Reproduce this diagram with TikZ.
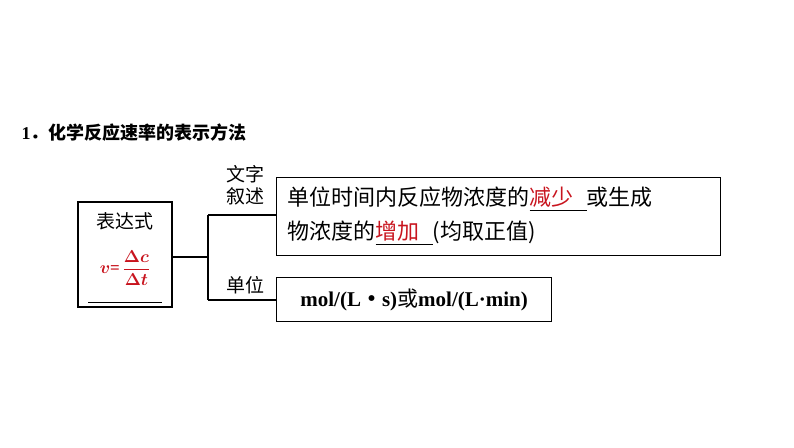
\documentclass[tikz,border=0pt]{standalone}
\usepackage{amsmath}
\usepackage{bm}
\usepackage{fontspec}
\setmainfont{Liberation Serif}
\newfontfamily\cjk{Noto Sans CJK SC}
\usetikzlibrary{positioning}
\definecolor{formred}{RGB}{200,20,30}
\tikzset{
  frame/.style={draw, line width=1.2pt, inner sep=0pt},
  lbl/.style={font=\cjk\fontsize{19}{22}\selectfont, align=left, inner sep=1pt},
  wire/.style={line width=1.2pt},
}
\newcommand{\redul}[1]{\underline{\textcolor{formred}{#1}\hspace{0.6em}}}
\begin{document}
\begin{tikzpicture}[x=1pt, y=-1pt]
	\useasboundingbox (0,0) rectangle (794,447);

	\node[anchor=west, font=\fontsize{18}{20}\selectfont\bfseries] (title) at (18,133) {1{\cjk ．化学反应速率的表示方法}};

	% left box
	\draw[frame] (78,202) rectangle (172,307);
	\coordinate (boxr) at (172,257);
	\node[lbl] (expr) at (125,221) {表达式};
	\node[font=\fontsize{17}{20}\selectfont\bfseries, text=formred] (formula) at (125,268) {$\bm{v}$=\,$\dfrac{\bm{\Delta c}}{\bm{\Delta t}}$};
	\draw[line width=1pt] (88,302) -- (162,302);

	% right boxes
	\node[frame, minimum width=444pt, minimum height=78pt, anchor=north west,
	      text width=430pt, align=left, font=\cjk\fontsize{22}{34}\selectfont] (desc) at (276,177)
	      {\hspace{4pt}单位时间内反应物浓度的\redul{减少}或生成\\\hspace{4pt}物浓度的\redul{增加}(均取正值)};
	\node[frame, minimum width=275pt, minimum height=44pt, anchor=north west,
	      font=\fontsize{21}{24}\selectfont\bfseries] (unit) at (276,277)
	      {mol/(L{\cjk ·}s){\cjk\mdseries 或}mol/(L·min)};

	\node[lbl] (wenzi) at (245,185) {文字\\叙述};
	\node[lbl] (danwei) at (245,285) {单位};

	% bracket
	\coordinate (split) at (208,257);
	\coordinate (top) at (208,215);
	\coordinate (bot) at (208,300);
	\draw[wire] (boxr) -- (split);
	\draw[wire] (top) -- (bot);
	\draw[wire] (top) -- (desc.west |- top);
	\draw[wire] (bot) -- (unit.west |- bot);
\end{tikzpicture}
\end{document}
